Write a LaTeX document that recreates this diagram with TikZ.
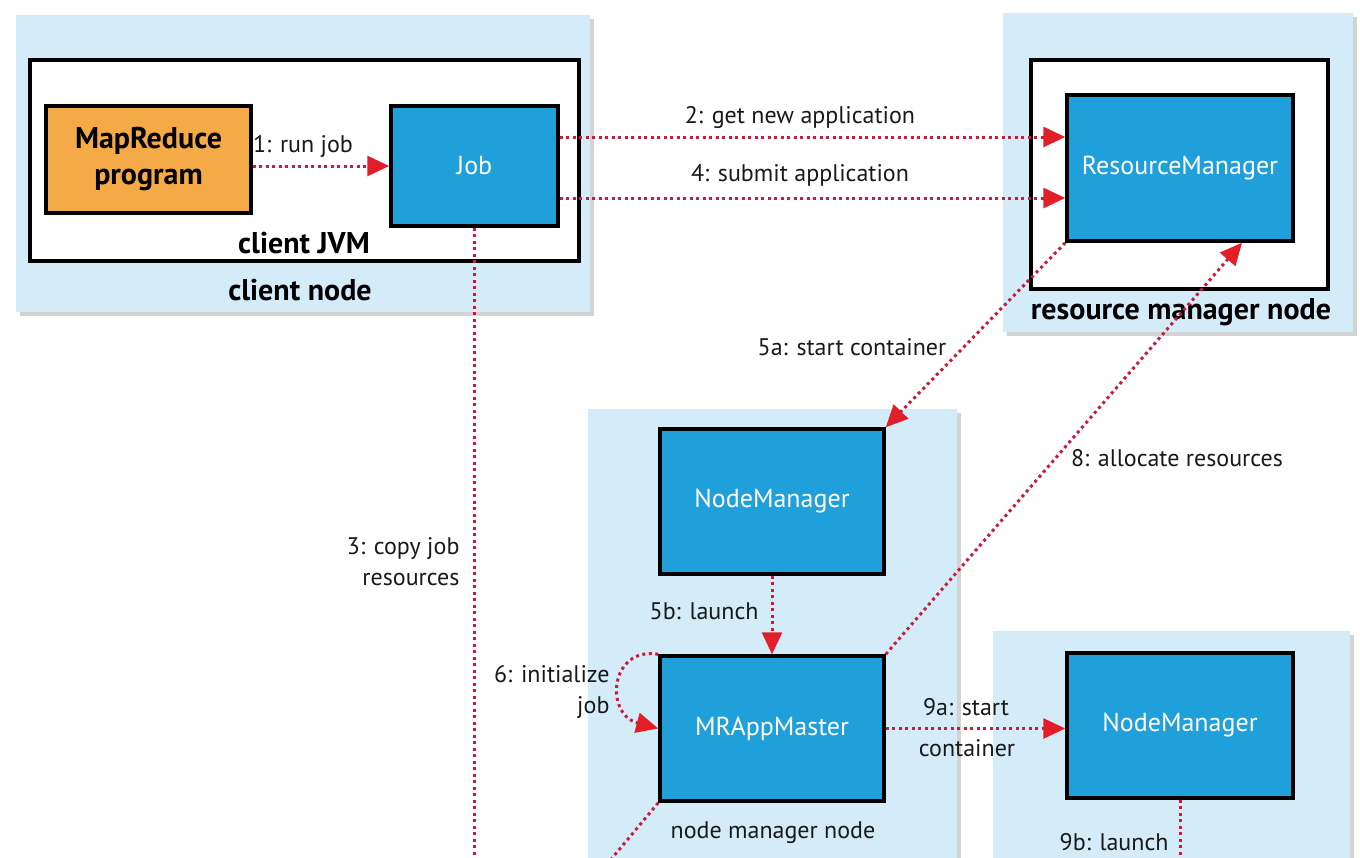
\documentclass[tikz,border=0pt]{standalone}
\usepackage{fontspec}
\setmainfont{PT Sans}
\usetikzlibrary{arrows.meta,shapes,positioning,shadows}
\definecolor{hostBlue}{RGB}{212,236,248}
\definecolor{daemonBlue}{RGB}{32,160,218}
\definecolor{progOrange}{RGB}{245,170,72}
\definecolor{flowRed}{RGB}{200,28,58}
\definecolor{tipRed}{RGB}{226,30,40}

\begin{document}
\begin{tikzpicture}[x=1pt,y=-1pt,
	Host/.style={rectangle,fill=hostBlue,draw=none,inner sep=0pt,
		drop shadow={shadow xshift=4pt,shadow yshift=-4pt,opacity=0.35}},
	JVM/.style={rectangle,fill=white,draw=black,line width=3.5pt,inner sep=0pt},
	Daemon/.style={rectangle,fill=daemonBlue,draw=black,line width=3.5pt,inner sep=0pt,
		text=white,font=\fontsize{26}{30}\selectfont},
	Program/.style={rectangle,fill=progOrange,draw=black,line width=3.5pt,inner sep=0pt,
		align=center,font=\fontsize{30}{36}\selectfont\bfseries},
	HostLabel/.style={font=\fontsize{30}{32}\selectfont\bfseries},
	Label/.style={font=\fontsize{24}{31}\selectfont,text=black!90},
	Flow/.style={draw=flowRed,line width=3pt,dash pattern=on 3pt off 3.5pt,
		-{Triangle[length=22pt,width=20pt,color=tipRed]}},
	Line/.style={Flow,-},
]
	\useasboundingbox (0,0) rectangle (1360,857);
	%\draw[help lines,step=50,gray!20] (0,0) grid (1360,857);

	% hosts
	\node[Host,minimum width=574,minimum height=297] (ClientHost) at (303,163.5) {};
	\node[Host,minimum width=350,minimum height=319] (RMHost) at (1178,172.5) {};
	\node[Host,minimum width=369,minimum height=461] (NMHost) at (772.5,639.5) {};
	\node[Host,minimum width=357,minimum height=239] (NMHostB) at (1171.5,750.5) {};

	\node[JVM,minimum width=549,minimum height=201] (ClientJVM) at (304.5,160.5) {};
	\node[JVM,minimum width=297,minimum height=229] (RMJVM) at (1179.5,174.5) {};

	% daemons
	\node[Program,minimum width=205,minimum height=107] (Prog) at (148.5,159.5) {MapReduce\\program};
	\node[Daemon,minimum width=167,minimum height=120] (Job) at (474.5,166) {Job};
	\node[Daemon,minimum width=226,minimum height=146] (RM) at (1180,168) {ResourceManager};
	\node[Daemon,minimum width=224,minimum height=145] (NM) at (772,501.5) {NodeManager};
	\node[Daemon,minimum width=224,minimum height=145] (Master) at (772,728.5) {MRAppMaster};
	\node[Daemon,minimum width=226,minimum height=145] (NMB) at (1180,725.5) {NodeManager};

	% host labels
	\node[HostLabel] (lJVM) at (304,243) {client JVM};
	\node[HostLabel] (lClient) at (300,290) {client node};
	\node[HostLabel] (lRM) at (1181,312) {resource manager node};
	\node[Label] (lNM) at (773,833) {node manager node};

	% step labels
	\node[Label] (l1) at (303,146) {1: run job};
	\node[Label] (l2) at (800,117) {2: get new application};
	\node[Label] (l4) at (800,175) {4: submit application};
	\node[Label,align=right,anchor=east] (l3) at (463,562) {3: copy job\\resources};
	\node[Label] (l5a) at (852,347) {5a: start container};
	\node[Label,anchor=east] (l5b) at (762,611) {5b: launch};
	\node[Label,align=right,anchor=east] (l6) at (613,692) {6: initialize\\job};
	\node[Label] (l8) at (1177,458) {8: allocate resources};
	\node[Label] (l9a) at (966,707) {9a: start};
	\node[Label] (l9c) at (967,748) {container};
	\node[Label,anchor=east] (l9b) at (1172,842) {9b: launch};

	\coordinate (j2) at ([yshift=29pt]Job.east);
	\coordinate (j4) at ([yshift=-32pt]Job.east);
	\coordinate (r8) at ([xshift=62pt]RM.south);
	\coordinate (e3) at (474.5,875);
	\coordinate (e7) at (598,875);
	\coordinate (e9) at (1180,875);

	\path
	(Prog.east |- Job.west) edge[Flow] (Job.west)
	(j2) edge[Flow] (j2 -| RM.west)
	(j4) edge[Flow] (j4 -| RM.west)
	(RM.south west) edge[Flow] (NM.north east)
	(NM.south) edge[Flow] (Master.north)
	(Master.north east) edge[Flow] (r8)
	(Master.east) edge[Flow] (Master.east -| NMB.west)
	;
	\draw[Flow] (Master.north west) .. controls (610,646) and (604,714) .. (Master.west);

	\path
	(Job.south) edge[Line] (e3)
	(Master.south west) edge[Line] (e7)
	(NMB.south) edge[Line] (e9)
	;
\end{tikzpicture}
\end{document}
